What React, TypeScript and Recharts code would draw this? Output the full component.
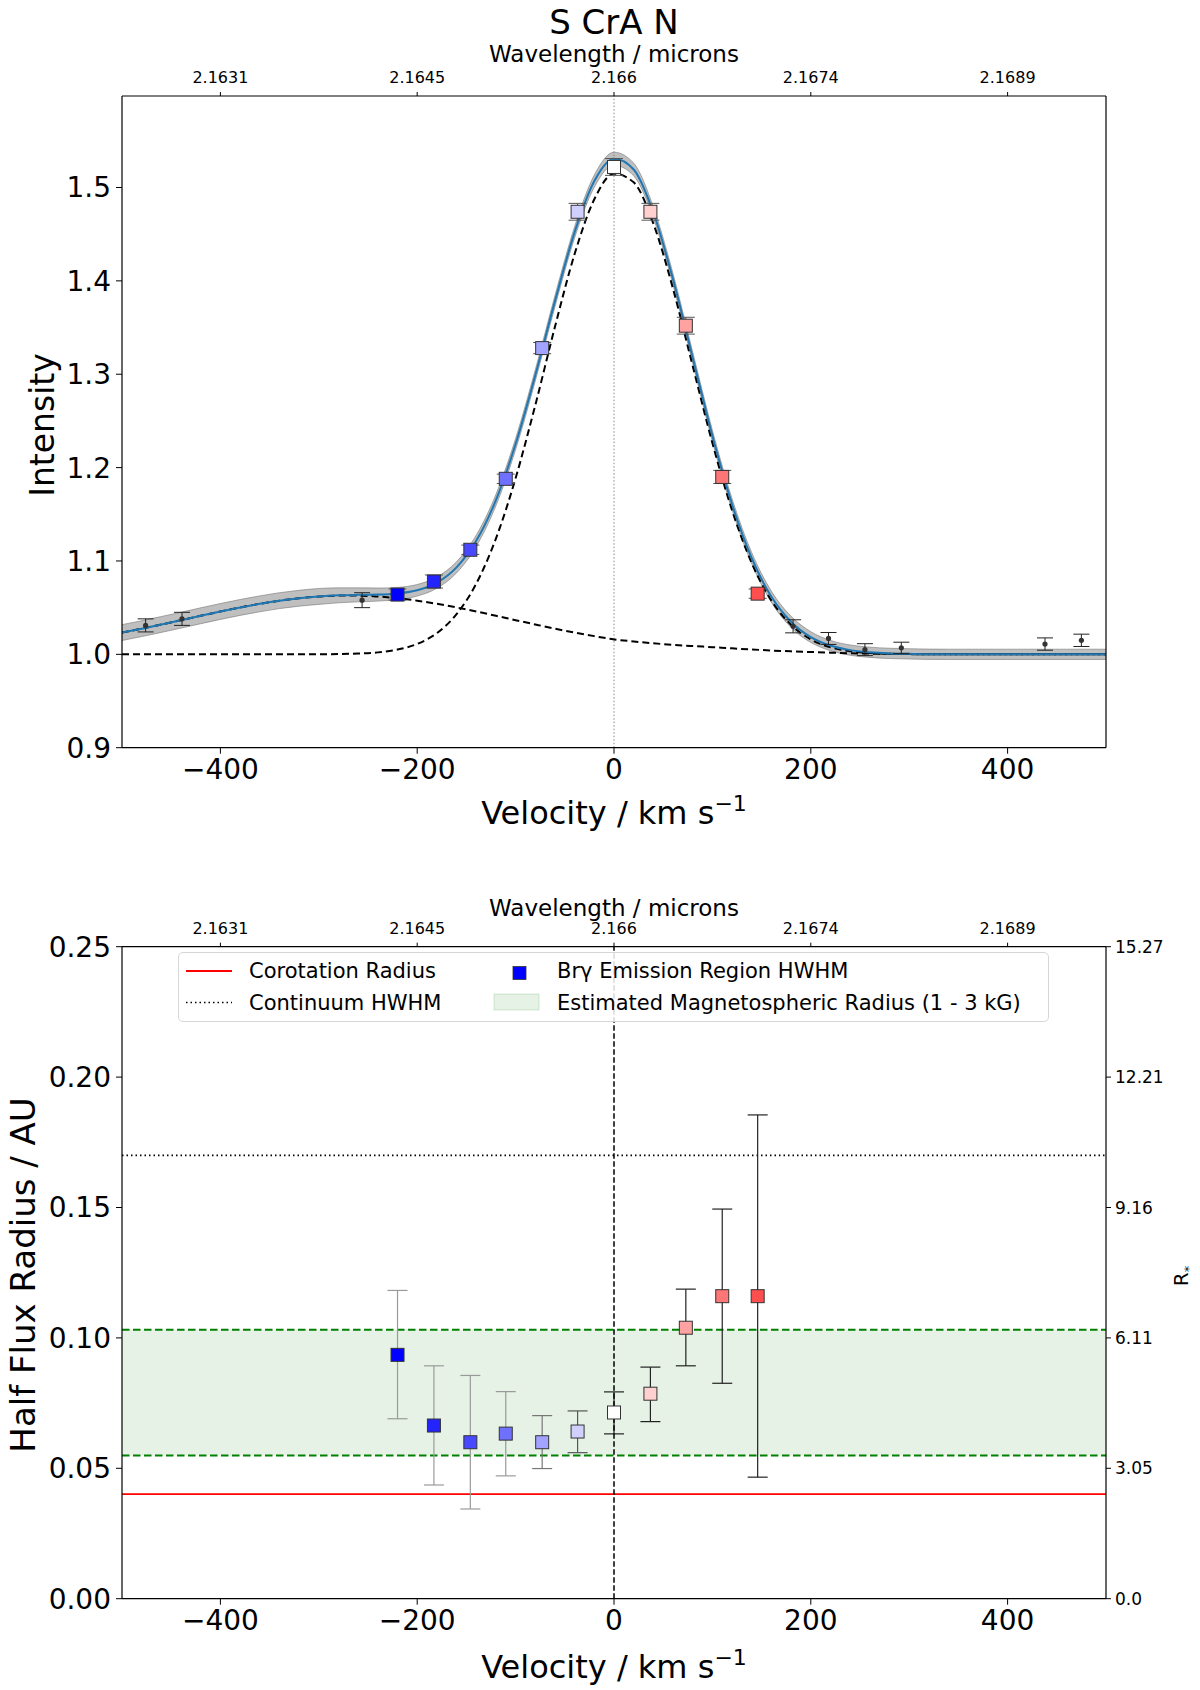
import React from "react";
import {
  ComposedChart,
  Line,
  Area,
  Scatter,
  ErrorBar,
  XAxis,
  YAxis,
  ReferenceLine,
  ReferenceArea,
} from "recharts";

const FONT = "'DejaVu Sans', sans-serif";

// velocity grid of the model curves (km/s)
const CURVE_V = [
  -500, -480, -460, -440, -420, -400, -380, -360, -340, -320, -300, -280, -260,
  -240, -220, -200, -180, -160, -140, -120, -100, -80, -60, -40, -20, 0, 20, 40,
  60, 80, 100, 120, 140, 160, 180, 200, 220, 240, 260, 280, 300, 320, 340, 360,
  380, 400, 420, 440, 460, 480, 500,
];
const FIT = [
  1.0233, 1.0275, 1.032, 1.0366, 1.0413, 1.0459, 1.0502, 1.0541, 1.0575, 1.0601,
  1.062, 1.0632, 1.0637, 1.064, 1.0652, 1.0686, 1.0768, 1.0932, 1.1216, 1.1652,
  1.2252, 1.2988, 1.3783, 1.4522, 1.5069, 1.5308, 1.5193, 1.4732, 1.4017, 1.3177,
  1.234, 1.1606, 1.1029, 1.0616, 1.0347, 1.0185, 1.0094, 1.0045, 1.0022, 1.001,
  1.0005, 1.0001, 1.0, 1.0, 1.0, 1.0, 1.0, 1.0, 1.0, 1.0, 1.0,
];
const BAND_HALF = [
  0.0085, 0.0085, 0.0085, 0.0085, 0.0085, 0.0085, 0.0085, 0.0085, 0.0085, 0.0085,
  0.0085, 0.008, 0.0075, 0.007, 0.0065, 0.0062, 0.006, 0.006, 0.006, 0.006, 0.006,
  0.006, 0.006, 0.006, 0.0065, 0.007, 0.0068, 0.006, 0.006, 0.006, 0.006, 0.006,
  0.006, 0.006, 0.006, 0.0058, 0.0055, 0.0055, 0.0055, 0.0055, 0.0055, 0.0055,
  0.0055, 0.0055, 0.0055, 0.0055, 0.0055, 0.0055, 0.0055, 0.0055, 0.0055,
];
const NARROW = [
  1.0, 1.0, 1.0, 1.0, 1.0, 1.0, 1.0, 1.0, 1.0, 1.0, 1.0001, 1.0003, 1.0008,
  1.0021, 1.0051, 1.0111, 1.0227, 1.043, 1.0757, 1.1239, 1.1886, 1.2668, 1.3508,
  1.4289, 1.4874, 1.5148, 1.5055, 1.4614, 1.3915, 1.3088, 1.2263, 1.1542, 1.0977,
  1.0575, 1.0315, 1.016, 1.0076, 1.0033, 1.0014, 1.0005, 1.0002, 1.0, 1.0, 1.0,
  1.0, 1.0, 1.0, 1.0, 1.0, 1.0, 1.0,
];
const BROAD = [
  1.0233, 1.0275, 1.032, 1.0366, 1.0413, 1.0459, 1.0502, 1.0541, 1.0575, 1.0601,
  1.0619, 1.0629, 1.0629, 1.0619, 1.0601, 1.0575, 1.0541, 1.0502, 1.0459, 1.0413,
  1.0366, 1.032, 1.0275, 1.0233, 1.0195, 1.016, 1.0138, 1.0118, 1.0102, 1.0089,
  1.0077, 1.0064, 1.0052, 1.0041, 1.0032, 1.0025, 1.0018, 1.0012, 1.0008, 1.0005,
  1.0003, 1.0001, 1.0, 1.0, 1.0, 1.0, 1.0, 1.0, 1.0, 1.0, 1.0,
];

// continuum channels (black points, top panel)
const CONT_V = [-476, -439, -256, 182, 218, 255, 292, 438, 475];
const CONT_I = [1.031, 1.038, 1.058, 1.03, 1.017, 1.005, 1.007, 1.011, 1.015];
const CONT_E = [0.007, 0.007, 0.008, 0.007, 0.0064, 0.0064, 0.006, 0.0066, 0.0066];

// line channels (coloured squares)
const LINE_V = [-220, -183, -146, -110, -73, -37, 0, 37, 73, 110, 146];
const LINE_I = [1.064, 1.078, 1.112, 1.188, 1.328, 1.474, 1.522, 1.474, 1.352, 1.19, 1.065];
const LINE_E = [0.006, 0.007, 0.005, 0.005, 0.006, 0.009, 0.009, 0.009, 0.009, 0.007, 0.005];
const LINE_COLORS = [
  "#0000ff", "#2424ff", "#4848ff", "#7070ff", "#a2a2ff", "#d0d0ff",
  "#ffffff", "#ffd0d0", "#ffa2a2", "#ff7676", "#ff4e4e",
];

// half flux radius (AU)
const HWHM = [0.0935, 0.0664, 0.06, 0.0633, 0.06, 0.0641, 0.0714, 0.0786, 0.1039, 0.116, 0.116];
const HWHM_LO = [0.0245, 0.0228, 0.0256, 0.0162, 0.0101, 0.0081, 0.0082, 0.0107, 0.0146, 0.0334, 0.0694];
const HWHM_HI = [0.0247, 0.0229, 0.0256, 0.0161, 0.0102, 0.0079, 0.0079, 0.0102, 0.0148, 0.0334, 0.0695];
const ERR_SHADE = [
  "#9a9a9a", "#9a9a9a", "#9a9a9a", "#9a9a9a", "#777777", "#555555",
  "#222222", "#222222", "#222222", "#222222", "#222222",
];

const COROTATION = 0.0401;
const CONTINUUM_HWHM = 0.17;
const MAG_RADIUS = [0.0549, 0.1031];

const VEL_TICKS = [-400, -200, 0, 200, 400];
const WAVE_LABELS = ["2.1631", "2.1645", "2.166", "2.1674", "2.1689"];
const INT_TICKS = [0.9, 1.0, 1.1, 1.2, 1.3, 1.4, 1.5];
const AU_TICKS = [0, 0.05, 0.1, 0.15, 0.2, 0.25];
const RSTAR_LABELS = ["0.0", "3.05", "6.11", "9.16", "12.21", "15.27"];

const curveRows = CURVE_V.map((v, i) => ({
  v,
  fit: FIT[i],
  narrow: NARROW[i],
  broad: BROAD[i],
  band: [FIT[i] - BAND_HALF[i], FIT[i] + BAND_HALF[i]],
}));
const contRows = CONT_V.map((v, i) => ({ v, y: CONT_I[i], err: CONT_E[i] }));
const lineRows = LINE_V.map((v, i) => ({ v, y: LINE_I[i], err: LINE_E[i], color: LINE_COLORS[i] }));
const radiusRows = LINE_V.map((v, i) => ({
  v,
  y: HWHM[i],
  err: [HWHM_LO[i], HWHM_HI[i]],
  color: LINE_COLORS[i],
  shade: ERR_SHADE[i],
}));
const shades = Array.from(new Set(ERR_SHADE));

const fmtVel = (v: number) => (v < 0 ? "\u2212" + Math.abs(v) : String(v));
const fmtWave = (v: number) => WAVE_LABELS[VEL_TICKS.indexOf(v)] ?? "";

const axisLine = { stroke: "#000", strokeWidth: 1.2 };
const tickLine = { stroke: "#000", strokeWidth: 1 };
const bigTick = { fontSize: 28, fill: "#000", fontFamily: FONT };
const waveTick = { fontSize: 16, fill: "#000", fontFamily: FONT };

const Square = (p: any) => (
  <rect
    x={p.cx - 6.5}
    y={p.cy - 6.5}
    width={13}
    height={13}
    fill={p.payload.color}
    stroke="#333"
    strokeWidth={1}
  />
);
const Dot = (p: any) => <circle cx={p.cx} cy={p.cy} r={2.6} fill="#333" />;

function Label({ x, y, size, rotate, children }: any) {
  return (
    <div
      style={{
        position: "absolute",
        left: x,
        top: y,
        transform: `translate(-50%, -50%)${rotate ? ` rotate(${rotate}deg)` : ""}`,
        fontFamily: FONT,
        fontSize: size,
        whiteSpace: "nowrap",
        color: "#000",
        lineHeight: 1,
      }}
    >
      {children}
    </div>
  );
}

function VelocityLabel({ y }: { y: number }) {
  return (
    <Label x={614} y={y} size={32}>
      Velocity / km s
      <span style={{ fontSize: 22, position: "relative", top: -13 }}>{"\u2212"}1</span>
    </Label>
  );
}

// axis bands are 1px thick, so the margins are 1px short of the plot box
function Axes({ yDomain, yTicks, yFmt, rightTicks, rightFmt }: any) {
  return (
    <>
      <XAxis
        dataKey="v"
        type="number"
        domain={[-500, 500]}
        ticks={VEL_TICKS}
        allowDataOverflow
        height={1}
        tickSize={6}
        tickMargin={5}
        tick={bigTick}
        tickFormatter={fmtVel}
        axisLine={axisLine}
        tickLine={tickLine}
      />
      <XAxis
        xAxisId="top"
        orientation="top"
        dataKey="v"
        type="number"
        domain={[-500, 500]}
        ticks={VEL_TICKS}
        allowDataOverflow
        height={1}
        tickSize={4}
        tickMargin={9}
        tick={waveTick}
        tickFormatter={fmtWave}
        axisLine={axisLine}
        tickLine={tickLine}
      />
      <YAxis
        type="number"
        domain={yDomain}
        ticks={yTicks}
        allowDataOverflow
        width={1}
        tickSize={6}
        tickMargin={5}
        tick={bigTick}
        tickFormatter={yFmt}
        axisLine={axisLine}
        tickLine={tickLine}
      />
      <YAxis
        yAxisId="right"
        orientation="right"
        type="number"
        domain={yDomain}
        ticks={rightTicks}
        allowDataOverflow
        width={1}
        tickSize={5}
        tickMargin={4}
        tick={rightTicks ? { fontSize: 17, fill: "#000", fontFamily: FONT } : false}
        tickLine={rightTicks ? tickLine : false}
        tickFormatter={rightFmt}
        axisLine={axisLine}
      />
    </>
  );
}

function TopPanel() {
  return (
    <ComposedChart width={1200} height={800} margin={{ top: 95, right: 93, bottom: 51.3, left: 121 }}>
      {Axes({ yDomain: [0.9, 1.598], yTicks: INT_TICKS, yFmt: (v: number) => v.toFixed(1) })}
      <ReferenceLine x={0} stroke="#888" strokeWidth={1} strokeDasharray="1.5 2" />
      <Line
        xAxisId="top"
        yAxisId="right"
        data={curveRows}
        dataKey="fit"
        stroke="none"
        dot={false}
        isAnimationActive={false}
      />
      <Line
        data={curveRows}
        dataKey="narrow"
        type="monotone"
        stroke="#000"
        strokeWidth={2}
        strokeDasharray="7 4"
        dot={false}
        isAnimationActive={false}
      />
      <Line
        data={curveRows}
        dataKey="broad"
        type="monotone"
        stroke="#000"
        strokeWidth={2}
        strokeDasharray="7 4"
        dot={false}
        isAnimationActive={false}
      />
      <Area
        data={curveRows}
        dataKey="band"
        type="monotone"
        fill="#808080"
        fillOpacity={0.5}
        stroke="#777"
        strokeOpacity={0.6}
        strokeWidth={1}
        isAnimationActive={false}
      />
      <Line
        data={curveRows}
        dataKey="fit"
        type="monotone"
        stroke="#1f77b4"
        strokeWidth={2}
        dot={false}
        isAnimationActive={false}
      />
      <Scatter data={contRows} dataKey="y" shape={Dot} isAnimationActive={false}>
        <ErrorBar dataKey="err" direction="y" width={8} stroke="#222" strokeWidth={1} />
      </Scatter>
      <Scatter data={lineRows} dataKey="y" shape={Square} isAnimationActive={false}>
        <ErrorBar dataKey="err" direction="y" width={9} stroke="#555" strokeWidth={1} />
      </Scatter>
    </ComposedChart>
  );
}

function BottomPanel() {
  return (
    <ComposedChart width={1200} height={890} margin={{ top: 145.7, right: 93, bottom: 90.3, left: 121 }}>
      {Axes({
        yDomain: [0, 0.25],
        yTicks: AU_TICKS,
        yFmt: (v: number) => v.toFixed(2),
        rightTicks: AU_TICKS,
        rightFmt: (v: number) => RSTAR_LABELS[AU_TICKS.indexOf(v)] ?? "",
      })}
      <ReferenceArea y1={MAG_RADIUS[0]} y2={MAG_RADIUS[1]} fill="#008000" fillOpacity={0.1} stroke="none" />
      <ReferenceLine y={MAG_RADIUS[1]} stroke="#008000" strokeWidth={2} strokeDasharray="7.5 3.5" />
      <ReferenceLine y={MAG_RADIUS[0]} stroke="#008000" strokeWidth={2} strokeDasharray="7.5 3.5" />
      <ReferenceLine y={CONTINUUM_HWHM} stroke="#000" strokeWidth={1.6} strokeDasharray="1.5 3" />
      <ReferenceLine y={COROTATION} stroke="#ff0000" strokeWidth={1.6} />
      <Line
        xAxisId="top"
        yAxisId="right"
        data={radiusRows}
        dataKey="y"
        stroke="none"
        dot={false}
        isAnimationActive={false}
      />
      {shades.map((s) => (
        <Scatter
          key={s}
          data={radiusRows.filter((r) => r.shade === s)}
          dataKey="y"
          shape={Square}
          isAnimationActive={false}
        >
          <ErrorBar dataKey="err" direction="y" width={10} stroke={s} strokeWidth={1.2} />
        </Scatter>
      ))}
      <ReferenceLine x={0} stroke="#000" strokeWidth={1.5} strokeDasharray="5.5 2.5" />
    </ComposedChart>
  );
}

function LegendBox() {
  const text = { position: "absolute" as const, fontFamily: FONT, fontSize: 21, color: "#000", lineHeight: 1, whiteSpace: "nowrap" as const };
  return (
    <div
      style={{
        position: "absolute",
        left: 178,
        top: 952,
        width: 871,
        height: 70,
        border: "1.5px solid #d6d6d6",
        borderRadius: 5,
        background: "rgba(255,255,255,0.85)",
        boxSizing: "border-box",
      }}
    >
      <svg width={871} height={70} style={{ position: "absolute", left: 0, top: 0 }}>
        <line x1={7} x2={53} y1={18} y2={18} stroke="#ff0000" strokeWidth={2} />
        <line x1={7} x2={53} y1={49.5} y2={49.5} stroke="#000" strokeWidth={1.6} strokeDasharray="1.5 3" />
        <rect x={334} y={13.5} width={13} height={13} fill="#0000ff" stroke="#333" strokeWidth={0.8} />
        <rect x={315} y={41} width={45} height={16} fill="#008000" fillOpacity={0.1} stroke="#008000" strokeOpacity={0.15} />
      </svg>
      <div style={{ ...text, left: 70, top: 8 }}>Corotation Radius</div>
      <div style={{ ...text, left: 70, top: 39.5 }}>Continuum HWHM</div>
      <div style={{ ...text, left: 378, top: 8 }}>Br{"\u03b3"} Emission Region HWHM</div>
      <div style={{ ...text, left: 378, top: 39.5 }}>Estimated Magnetospheric Radius (1 - 3 kG)</div>
    </div>
  );
}

export default function App() {
  return (
    <div
      style={{
        position: "absolute",
        left: 0,
        top: 0,
        width: 1200,
        height: 1690,
        background: "#fff",
        overflow: "hidden",
      }}
    >
      <div style={{ position: "absolute", left: 0, top: 0 }}>
        <TopPanel />
      </div>
      <div style={{ position: "absolute", left: 0, top: 800 }}>
        <BottomPanel />
      </div>
      <LegendBox />
      <Label x={614} y={22} size={34}>S CrA N</Label>
      <Label x={614} y={54} size={23}>Wavelength / microns</Label>
      <VelocityLabel y={813} />
      <Label x={42} y={425} size={33} rotate={-90}>Intensity</Label>
      <Label x={614} y={908} size={23}>Wavelength / microns</Label>
      <VelocityLabel y={1667} />
      <Label x={23} y={1275} size={34} rotate={-90}>Half Flux Radius / AU</Label>
      <Label x={1183} y={1276} size={20} rotate={-90}>
        R<sub style={{ fontSize: 13 }}>*</sub>
      </Label>
    </div>
  );
}
